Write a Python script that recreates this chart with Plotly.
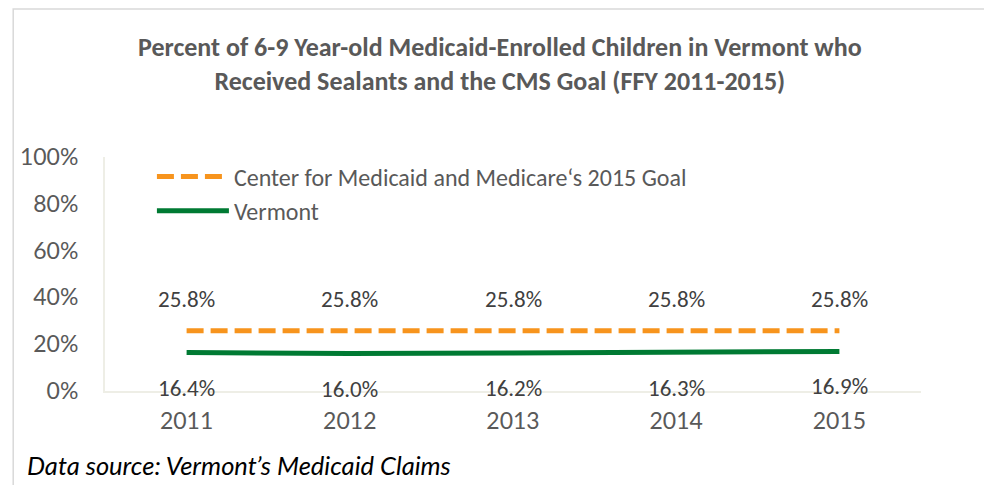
import plotly.graph_objects as go

years = ["2011", "2012", "2013", "2014", "2015"]
cms_goal = [25.8, 25.8, 25.8, 25.8, 25.8]
vermont = [16.4, 16.0, 16.2, 16.3, 16.9]
y_ticks = [0, 20, 40, 60, 80, 100]
y_tick_labels = ["0%", "20%", "40%", "60%", "80%", "100%"]

ORANGE = "#F7941D"
GREEN = "#007A33"
GRAY = "#595959"
TICKFONT = "Lato, 'Noto Sans', sans-serif"
TEXTFONT = "Carlito, Lato, 'Open Sans', sans-serif"

fig = go.Figure()
fig.add_trace(go.Scatter(
    x=years, y=cms_goal, mode="lines",
    name="Center for Medicaid and Medicare\u2018s 2015 Goal",
    line=dict(color=ORANGE, width=5, dash="17px,7px"),
))
fig.add_trace(go.Scatter(
    x=years, y=vermont, mode="lines", name="Vermont",
    line=dict(color=GREEN, width=5),
))

for i, v in enumerate(cms_goal):
    fig.add_annotation(x=i, y=v, text=f"{v:.1f}%", showarrow=False,
                       yshift=32, font=dict(family=TEXTFONT, size=23, color="#404040"))
for i, v in enumerate(vermont):
    fig.add_annotation(x=i, y=v, text=f"{v:.1f}%", showarrow=False,
                       yshift=-35, font=dict(family=TEXTFONT, size=23, color="#404040"))

fig.add_annotation(
    xref="paper", yref="paper", x=0.5, y=1, xshift=-13,
    yshift=93, xanchor="center", yanchor="middle",
    text="<b>Percent of 6-9 Year-old Medicaid-Enrolled Children in Vermont who<br>Received Sealants and the CMS Goal (FFY 2011-2015)</b>",
    showarrow=False, font=dict(family=TEXTFONT, size=26, color=GRAY),
)
fig.add_annotation(
    xref="paper", yref="paper", x=-0.0976, y=0, yshift=-74, xanchor="left", yanchor="middle",
    text="<i>Data source: Vermont\u2019s Medicaid Claims</i>", showarrow=False,
    font=dict(family=TICKFONT, size=25.5, color="#000000"),
)

fig.add_shape(type="rect", xref="paper", yref="paper",
              x0=-0.1125, x1=1.2, y0=1.6325, y1=-0.6,
              line=dict(color="#D9D9D9", width=1.5), layer="below")

fig.update_layout(
    width=984, height=477,
    margin=dict(l=93, r=71, t=149, b=94),
    paper_bgcolor="white", plot_bgcolor="white",
    showlegend=True,
    legend=dict(x=0.0575, y=0.842, xanchor="left", yanchor="middle",
                font=dict(family=TEXTFONT, size=24, color=GRAY),
                bgcolor="rgba(0,0,0,0)", tracegroupgap=0, itemwidth=72),
    xaxis=dict(type="category", range=[-0.5, 4.5], showgrid=False,
               showline=True, linecolor="#EEEEE6", linewidth=2, ticks="",
               ticklabelstandoff=8,
               tickfont=dict(family=TICKFONT, size=23, color=GRAY)),
    yaxis=dict(range=[0, 100], tickvals=y_ticks, ticktext=y_tick_labels,
               showgrid=False, zeroline=False, showline=True,
               linecolor="#EEEEE6", linewidth=2, ticks="",
               ticklabelstandoff=20,
               tickfont=dict(family=TICKFONT, size=23, color=GRAY)),
)

fig.write_html("out.html")
